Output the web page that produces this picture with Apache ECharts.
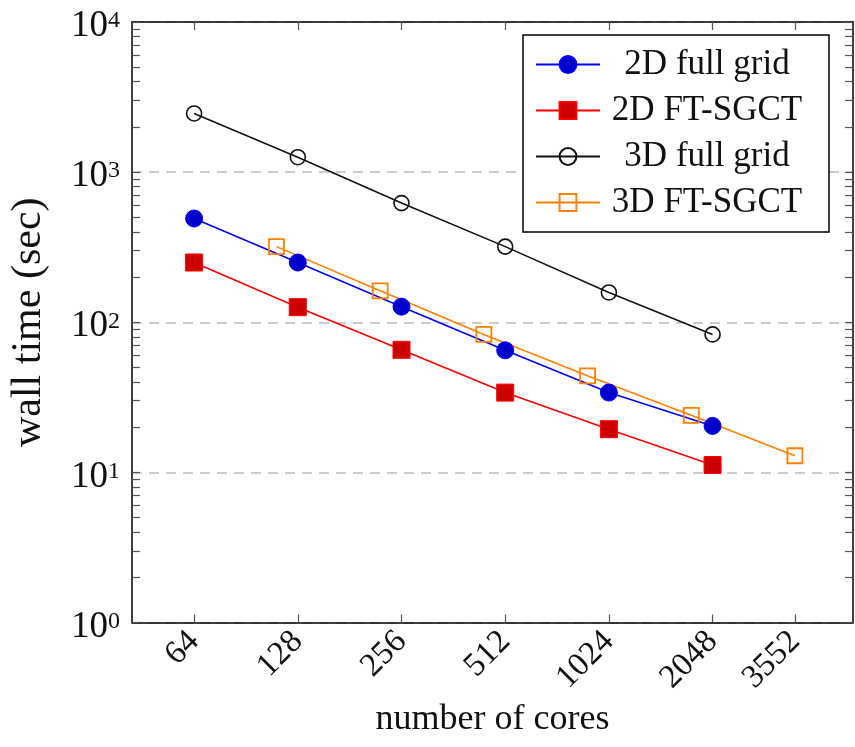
<!DOCTYPE html>
<html>
<head>
<meta charset="utf-8">
<title>Wall time vs. number of cores</title>
<script src="https://cdn.jsdelivr.net/npm/echarts@6/dist/echarts.min.js"></script>
<style>
  html, body { margin: 0; padding: 0; background: #fff; }
  #chart { width: 855px; height: 747px; }
</style>
</head>
<body>
<div id="chart"></div>
<script>
// Core counts used by the full-grid runs and the 2D combination technique
const cores = [64, 128, 256, 512, 1024, 2048];
// Core counts of the 3D fault-tolerant combination runs
const cores3dFT = [111, 222, 444, 888, 1776, 3552];

// Wall time in seconds
const fullGrid2d = [491, 250, 127, 65, 34, 20.4];
const ftSgct2d   = [250, 126, 65.5, 34, 19.4, 11.2];
const fullGrid3d = [2460, 1257, 622, 319, 158, 83];
const ftSgct3d   = [319, 162, 83, 44, 24, 12.9];

// Tick labels on the core axis
const coreTicks = [64, 128, 256, 512, 1024, 2048, 3552];

// Log-decade ticks on the time axis (majors and 2..9 minors)
const timeTicks = [];
for (let e = 0; e < 4; e++) {
  for (let m = 1; m <= 9; m++) timeTicks.push(m * Math.pow(10, e));
}
timeTicks.push(10000);

const serif = 'Liberation Serif, DejaVu Serif, serif';
const pair = (xs, ys) => xs.map((x, i) => [x, ys[i]]);

const xMin = 42.25, xMax = 5236;

const chart = echarts.init(document.getElementById('chart'));

const tickStyle = { color: '#555', width: 1.2 };

chart.setOption({
  animation: false,
  backgroundColor: '#fff',
  grid: { left: 132, right: 2, top: 22, bottom: 124.5, containLabel: false },
  legend: {
    left: 523, top: 35,
    orient: 'vertical',
    backgroundColor: '#fff',
    borderColor: '#000', borderWidth: 1.5,
    padding: [12, 20, 12, 12],
    itemWidth: 64, itemHeight: 21, itemGap: 11,
    formatter: '{c|{name}}',
    textStyle: {
      fontFamily: serif, fontSize: 35, color: '#111',
      rich: { c: { width: 204, align: 'center', fontFamily: serif, fontSize: 35, lineHeight: 35, color: '#111' } }
    },
    data: ['2D full grid', '2D FT-SGCT', '3D full grid', '3D FT-SGCT']
  },
  xAxis: [
    {
      type: 'log', logBase: 2, min: xMin, max: xMax,
      position: 'bottom',
      name: 'number of cores', nameLocation: 'middle', nameGap: 71,
      nameTextStyle: { fontFamily: serif, fontSize: 36, color: '#111' },
      axisLine: { show: true, lineStyle: { color: '#000', width: 1.5 } },
      axisTick: { show: true, inside: true, length: 8, customValues: coreTicks, lineStyle: tickStyle },
      axisLabel: {
        show: true, rotate: 45, margin: 14, customValues: coreTicks,
        fontFamily: serif, fontSize: 33, color: '#111',
        formatter: v => String(Math.round(v))
      },
      splitLine: { show: false }, minorTick: { show: false }
    },
    {
      type: 'log', logBase: 2, min: xMin, max: xMax,
      position: 'top',
      axisLine: { show: true, lineStyle: { color: '#000', width: 1.5 } },
      axisTick: { show: true, inside: true, length: 8, customValues: coreTicks, lineStyle: tickStyle },
      axisLabel: { show: false },
      splitLine: { show: false }
    }
  ],
  yAxis: [
    {
      type: 'log', logBase: 10, min: 1, max: 10000,
      position: 'left',
      name: 'wall time (sec)', nameLocation: 'middle', nameGap: 82,
      nameTextStyle: { fontFamily: serif, fontSize: 42, color: '#111' },
      axisLine: { show: true, lineStyle: { color: '#000', width: 1.5 } },
      axisTick: { show: false },
      axisLabel: {
        show: true, margin: 12, padding: [10, 0, 0, 0],
        formatter: v => '{b|10}{s|' + Math.round(Math.log10(v)) + '}',
        rich: {
          b: { fontFamily: serif, fontSize: 37, lineHeight: 36, color: '#111', verticalAlign: 'bottom' },
          s: { fontFamily: serif, fontSize: 24, lineHeight: 24, color: '#111', verticalAlign: 'top' }
        }
      },
      splitLine: { show: true, lineStyle: { color: '#bdbdbd', width: 1.5, type: [10, 7] } }
    },
    {
      type: 'log', logBase: 10, min: 1, max: 10000,
      position: 'left', offset: 0,
      axisLine: { show: false },
      axisTick: { show: true, inside: true, length: 8, customValues: timeTicks, lineStyle: tickStyle },
      axisLabel: { show: false },
      splitLine: { show: false }
    },
    {
      type: 'log', logBase: 10, min: 1, max: 10000,
      position: 'right',
      axisLine: { show: true, lineStyle: { color: '#000', width: 1.5 } },
      axisTick: { show: true, inside: true, length: 8, customValues: timeTicks, lineStyle: tickStyle },
      axisLabel: { show: false },
      splitLine: { show: false }
    }
  ],
  series: [
    {
      name: '2D full grid', type: 'line', data: pair(cores, fullGrid2d),
      symbol: 'circle', symbolSize: 17,
      itemStyle: { color: '#0000cc', borderColor: '#0000ff', borderWidth: 1 },
      lineStyle: { color: '#0000ff', width: 1.6 },
      z: 3
    },
    {
      name: '2D FT-SGCT', type: 'line', data: pair(cores, ftSgct2d),
      symbol: 'rect', symbolSize: 17,
      itemStyle: { color: '#cc0000', borderColor: '#ff0000', borderWidth: 1 },
      lineStyle: { color: '#ff0000', width: 1.6 },
      z: 3
    },
    {
      name: '3D full grid', type: 'line', data: pair(cores, fullGrid3d),
      symbol: 'circle', symbolSize: 15,
      itemStyle: { color: 'rgba(255,255,255,0)', borderColor: '#111', borderWidth: 1.6 },
      lineStyle: { color: '#111', width: 1.6 },
      z: 3
    },
    {
      name: '3D FT-SGCT', type: 'line', data: pair(cores3dFT, ftSgct3d),
      symbol: 'rect', symbolSize: 15,
      itemStyle: { color: 'rgba(255,255,255,0)', borderColor: '#ff8000', borderWidth: 1.8 },
      lineStyle: { color: '#ff8000', width: 1.6 },
      z: 3
    }
  ]
});
</script>
</body>
</html>
